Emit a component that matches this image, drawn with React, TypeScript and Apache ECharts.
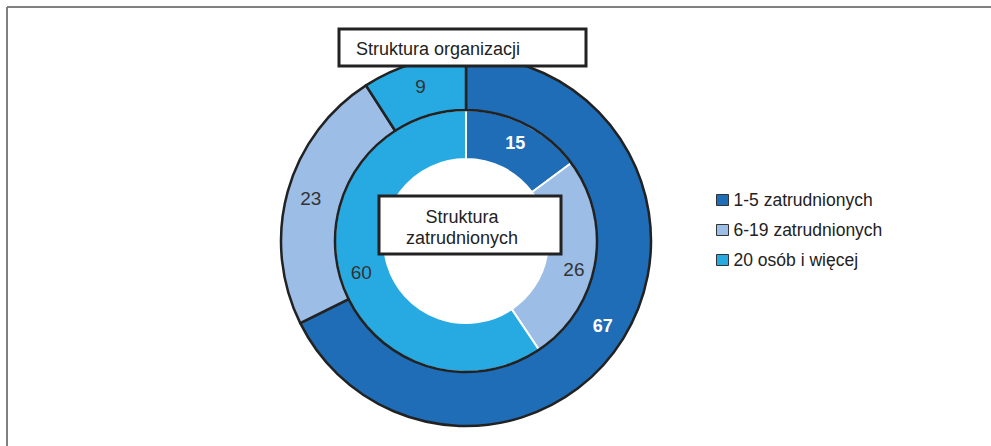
import React, { useEffect, useRef } from "react";
import * as echarts from "echarts";

const categories = ["1-5 zatrudnionych", "6-19 zatrudnionych", "20 osób i więcej"];
const organizationValues = [67, 23, 9];
const employeeValues = [15, 26, 60];
const colors = ["#1e6db6", "#9bbde6", "#27aae2"];
const outerTitle = "Struktura organizacji";
const innerTitle = "Struktura\nzatrudnionych";

const FONT = "'Liberation Sans', Arial, sans-serif";

export default function App() {
  const ref = useRef<HTMLDivElement>(null);
  useEffect(() => {
    if (!ref.current) return;
    const chart = echarts.init(ref.current, null, { renderer: "svg" });
    const labelFor = (i: number) =>
      i === 0
        ? { color: "#ffffff", fontWeight: "bold" as const, fontSize: 18 }
        : { color: "#333333", fontWeight: "normal" as const, fontSize: 19 };
    chart.setOption({
      animation: false,
      backgroundColor: "#ffffff",
      color: colors,
      legend: {
        orient: "vertical",
        left: 716,
        top: 191,
        padding: 0,
        itemWidth: 12,
        itemHeight: 11,
        itemGap: 12,
        icon: "rect",
        selectedMode: false,
        itemStyle: { borderColor: "#333333", borderWidth: 1 },
        textStyle: { fontFamily: FONT, fontSize: 17.5, color: "#222222", lineHeight: 18, padding: [0, 0, 0, 0] },
        data: categories,
      },
      series: [
        {
          type: "pie",
          name: "zatrudnieni",
          center: [466, 241],
          radius: [82, 131],
          startAngle: 90,
          clockwise: true,
          silent: true,
          itemStyle: { borderColor: "#ffffff", borderWidth: 2 },
          label: { show: true, position: "inside", fontFamily: FONT, formatter: "{c}" },
          labelLine: { show: false },
          labelLayout: (p: any) => (p.dataIndex === 1 ? { dy: 10 } : {}),
          data: categories.map((name, i) => ({
            name,
            value: employeeValues[i],
            label: labelFor(i),
          })),
          z: 2,
        },
        {
          type: "pie",
          name: "organizacje",
          center: [466, 241],
          radius: [131, 185],
          startAngle: 90,
          clockwise: true,
          silent: true,
          itemStyle: { borderColor: "#222222", borderWidth: 2.5 },
          label: { show: true, position: "inside", fontFamily: FONT, formatter: "{c}" },
          labelLine: { show: false },
          data: categories.map((name, i) => ({
            name,
            value: organizationValues[i],
            label: labelFor(i),
          })),
          z: 3,
        },
      ],
      graphic: [
        {
          type: "line",
          shape: { x1: 7, y1: 7, x2: 991, y2: 7 },
          style: { stroke: "#808080", lineWidth: 2 },
          z: 10,
        },
        {
          type: "line",
          shape: { x1: 7, y1: 7, x2: 7, y2: 446 },
          style: { stroke: "#808080", lineWidth: 2 },
          z: 10,
        },
        {
          type: "group",
          z: 20,
          children: [
            {
              type: "rect",
              shape: { x: 339, y: 29, width: 247, height: 37 },
              style: { fill: "#ffffff", stroke: "#222222", lineWidth: 3 },
              z: 20,
            },
            {
              type: "text",
              x: 356,
              y: 49,
              style: {
                text: outerTitle,
                fontFamily: FONT,
                fontSize: 18,
                fill: "#222222",
                verticalAlign: "middle",
                align: "left",
              },
              z: 21,
            },
            {
              type: "rect",
              shape: { x: 379, y: 196, width: 182, height: 58 },
              style: { fill: "#ffffff", stroke: "#222222", lineWidth: 3 },
              z: 20,
            },
            {
              type: "text",
              x: 462,
              y: 227,
              style: {
                text: innerTitle,
                fontFamily: FONT,
                fontSize: 18,
                lineHeight: 21,
                fill: "#222222",
                verticalAlign: "middle",
                align: "center",
              },
              z: 21,
            },
          ],
        },
      ],
    });
    return () => chart.dispose();
  }, []);
  return (
    <div
      ref={ref}
      style={{ position: "fixed", left: 0, top: 0, width: 991, height: 446 }}
    />
  );
}
